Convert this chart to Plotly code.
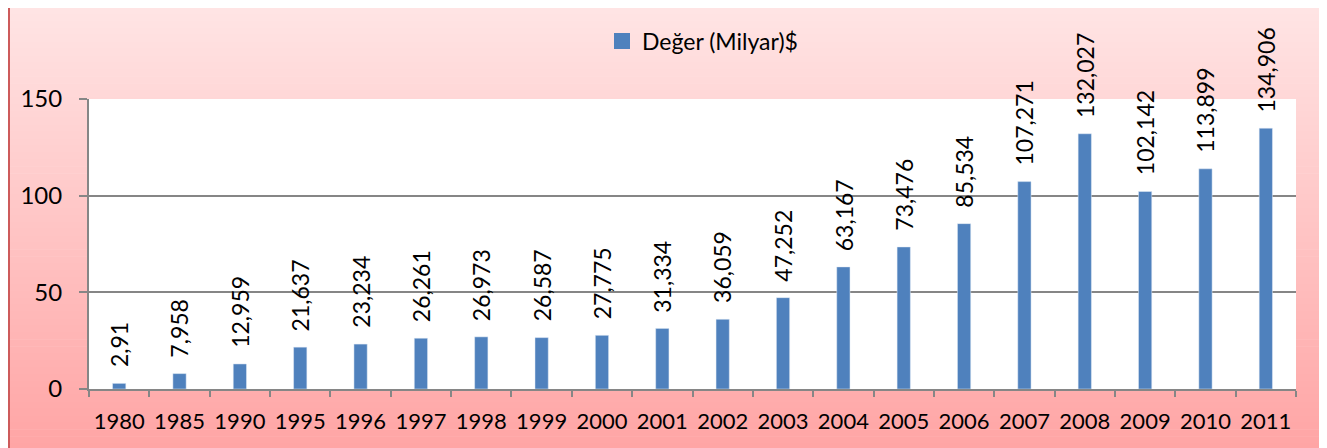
import plotly.graph_objects as go

years = ["1980", "1985", "1990", "1995", "1996", "1997", "1998", "1999", "2000", "2001",
         "2002", "2003", "2004", "2005", "2006", "2007", "2008", "2009", "2010", "2011"]
values = [2.91, 7.958, 12.959, 21.637, 23.234, 26.261, 26.973, 26.587, 27.775, 31.334,
          36.059, 47.252, 63.167, 73.476, 85.534, 107.271, 132.027, 102.142, 113.899, 134.906]
labels = ["2,91", "7,958", "12,959", "21,637", "23,234", "26,261", "26,973", "26,587", "27,775", "31,334",
          "36,059", "47,252", "63,167", "73,476", "85,534", "107,271", "132,027", "102,142", "113,899", "134,906"]
series_name = "Değer (Milyar)$"
y_ticks = [0, 50, 100, 150]

# The page body has an 8px margin, so the figure is sized/laid out in page coords minus 8.
OFF = 8
W, H = 1327 - OFF, 448 - OFF
L, T = 89 - OFF, 99 - OFF
PW, PH = 1207, 290
R, B = W - L - PW, H - T - PH
BAR_COLOR = "#4F81BD"
FONT = "Lato"


def px_x(p):  # page pixel -> paper x
    return (p - OFF - L) / PW


def px_y(p):  # page pixel -> paper y
    return (T + PH - (p - OFF)) / PH


fig = go.Figure()
fig.add_trace(go.Bar(x=years, y=values, marker_color=BAR_COLOR, showlegend=False,
                     hoverinfo="x+y"))
# legend entry (no visible point)
fig.add_trace(go.Scatter(x=[years[0]], y=[None], mode="markers", name=series_name,
                         marker=dict(symbol="square", size=16, color=BAR_COLOR),
                         hoverinfo="skip"))

# value labels (x given as category index)
annotations = []
for i, (v, lab) in enumerate(zip(values, labels)):
    annotations.append(dict(x=i, y=v, xref="x", yref="y", text=lab, showarrow=False,
                            textangle=-90, xanchor="center", yanchor="bottom", yshift=14,
                            font=dict(family=FONT, size=23, color="#000000")))

# gradient background bands
shapes = []
n = 64
top_px, bot_px = 7, 450
c_top = (255, 229, 229)
c_bot = (255, 164, 164)
for i in range(n):
    y0 = top_px + (bot_px - top_px) * i / n
    y1 = top_px + (bot_px - top_px) * (i + 1) / n + 0.6
    t = (i + 0.5) / n
    c = tuple(round(a + (b - a) * t) for a, b in zip(c_top, c_bot))
    shapes.append(dict(type="rect", xref="paper", yref="paper", layer="below",
                       x0=px_x(8), x1=px_x(1325), y0=px_y(y1), y1=px_y(y0),
                       line=dict(width=0), fillcolor="rgb(%d,%d,%d)" % c))
# plot area white
shapes.append(dict(type="rect", xref="paper", yref="paper", layer="below",
                   x0=0, x1=1, y0=0, y1=1, line=dict(width=0), fillcolor="white"))
# outer border
shapes.append(dict(type="rect", xref="paper", yref="paper", layer="above",
                   x0=px_x(9), x1=px_x(1325), y0=px_y(470), y1=px_y(7),
                   line=dict(color="#CD5B5B", width=2), fillcolor="rgba(0,0,0,0)"))

fig.update_layout(
    width=W, height=H,
    margin=dict(l=L, r=R, t=T, b=B, pad=0, autoexpand=False),
    paper_bgcolor="white", plot_bgcolor="white",
    bargap=0.78,
    font=dict(family=FONT, color="#000000"),
    showlegend=True,
    legend=dict(xref="container", yref="container", x=(602 - OFF) / W, y=(H - (41 - OFF)) / H,
                xanchor="left", yanchor="middle",
                orientation="h", bgcolor="rgba(0,0,0,0)",
                font=dict(family=FONT, size=23, color="#000000")),
    annotations=annotations,
    shapes=shapes,
    xaxis=dict(type="category", categoryorder="array", categoryarray=years,
               range=[-0.5, len(years) - 0.5], automargin=False,
               showgrid=False, showline=True, linecolor="#868686", linewidth=2,
               ticks="outside", tickson="boundaries", ticklen=6, tickwidth=2, tickcolor="#868686",
               tickangle=0,
               tickfont=dict(family=FONT, size=22, color="#000000"), ticklabelstandoff=12,
               zeroline=False),
    yaxis=dict(range=[0, 150], tickvals=y_ticks, automargin=False,
               showgrid=True, gridcolor="#868686", gridwidth=1.5,
               showline=True, linecolor="#868686", linewidth=2,
               ticks="outside", ticklen=8, tickwidth=2, tickcolor="#868686",
               tickfont=dict(family=FONT, size=24, color="#000000"), ticklabelstandoff=12,
               zeroline=False),
)

fig.write_html("out.html")
